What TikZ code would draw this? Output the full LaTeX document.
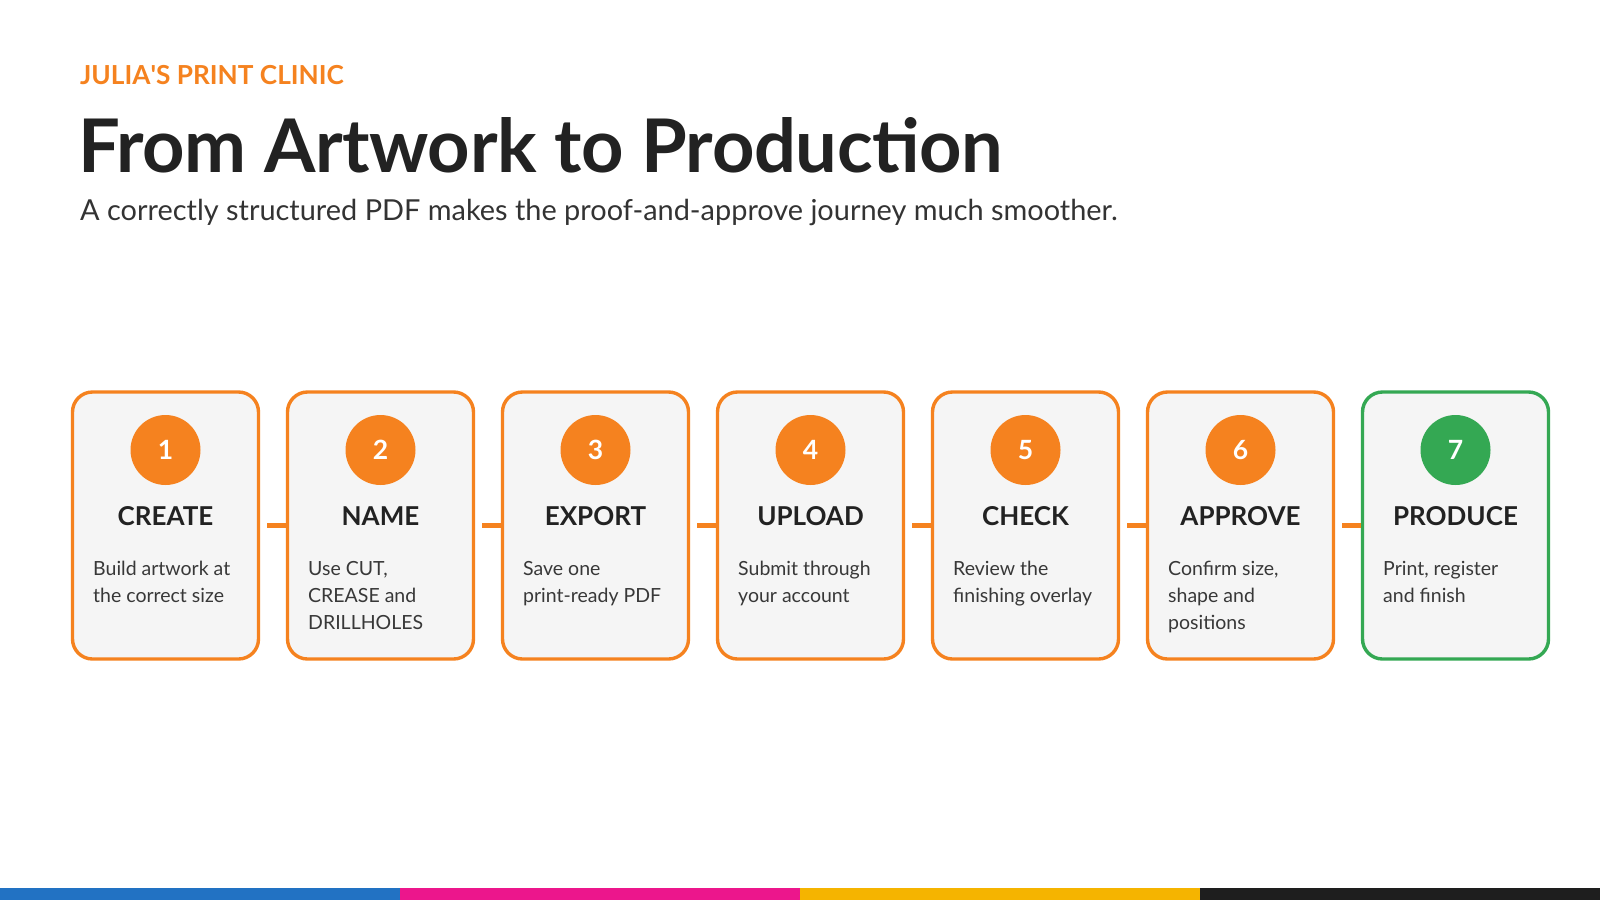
\documentclass[tikz,border=0pt]{standalone}
\usepackage{fontspec}
\setmainfont{Lato}
\definecolor{orng}{HTML}{F5821F}
\definecolor{grn}{HTML}{34A853}
\definecolor{cardbg}{HTML}{F5F5F5}
\definecolor{ink}{HTML}{222222}
\definecolor{subink}{HTML}{333333}
\definecolor{barblue}{HTML}{2272C3}
\definecolor{barmag}{HTML}{EC168C}
\definecolor{baryel}{HTML}{F5B400}
\definecolor{barblk}{HTML}{1E1E1E}
\tikzset{
  card/.style={draw=orng, fill=cardbg, line width=3.4pt, rounded corners=20pt,
    minimum width=186pt, minimum height=267pt, inner sep=0pt},
  cardg/.style={card, draw=grn},
  numc/.style={circle, fill=orng, minimum size=70pt, inner sep=0pt, text=white,
    font=\fontsize{26.5}{30}\selectfont\bfseries},
  numcg/.style={numc, fill=grn},
  head/.style={anchor=base, inner sep=0pt, text=ink, font=\fontsize{26}{30}\selectfont\bfseries},
  desc/.style={anchor=north west, inner sep=0pt, align=left, text=ink!90,
    font=\fontsize{19.5}{27}\selectfont},
  conn/.style={draw=orng, line width=5.5pt},
  bar/.style={inner sep=0pt, minimum height=12pt, minimum width=400pt, anchor=north west},
}
\begin{document}
\begin{tikzpicture}[x=1pt,y=-1pt]
\useasboundingbox[fill=white] (0,0) rectangle (1600,900);
\node[anchor=base west, inner sep=0pt, text=orng, font=\fontsize{26.2}{30}\selectfont\bfseries] (kicker) at (80,84) {JULIA\textquotesingle S PRINT CLINIC};
\node[anchor=base west, inner sep=0pt, text=ink, font=\fontsize{74}{80}\selectfont\bfseries\addfontfeatures{LetterSpace=-0.6}] (title) at (78,172) {From Artwork to Production};
\node[anchor=base west, inner sep=0pt, text=subink, font=\fontsize{28.9}{32}\selectfont] (subtitle) at (80,220) {A correctly structured PDF makes the proof-and-approve journey much smoother.};

\foreach \i/\num/\hd/\ds in {
  0/1/CREATE/{Build artwork at\\the correct size},
  1/2/NAME/{Use CUT,\\CREASE and\\DRILLHOLES},
  2/3/EXPORT/{Save one\\print-ready PDF},
  3/4/UPLOAD/{Submit through\\your account},
  4/5/CHECK/{Review the\\finishing overlay},
  5/6/APPROVE/{Confirm size,\\shape and\\positions}}{
  \node[card] (c\num) at (165.5+215*\i,525.5) {};
  \node[numc] (n\num) at (165.5+215*\i,450) {\num};
  \node[head] (h\num) at (165.5+215*\i,525) {\hd};
  \node[desc] (d\num) at (93+215*\i,556.1) {\strut\ds};
}
\node[cardg] (c7) at (165.5+215*6,525.5) {};
\node[numcg] (n7) at (165.5+215*6,450) {7};
\node[head] (h7) at (165.5+215*6,525) {PRODUCE};
\node[desc] (d7) at (93+215*6,556.1) {\strut Print, register\\and finish};

\foreach \a/\b in {1/2,2/3,3/4,4/5,5/6,6/7}{
  \draw[conn] ([xshift=7pt]c\a.east) -- (c\b.west);
}

\node[bar, fill=barblue] (b1) at (0,888) {};
\node[bar, fill=barmag] (b2) at (400,888) {};
\node[bar, fill=baryel] (b3) at (800,888) {};
\node[bar, fill=barblk] (b4) at (1200,888) {};
\end{tikzpicture}
\end{document}
